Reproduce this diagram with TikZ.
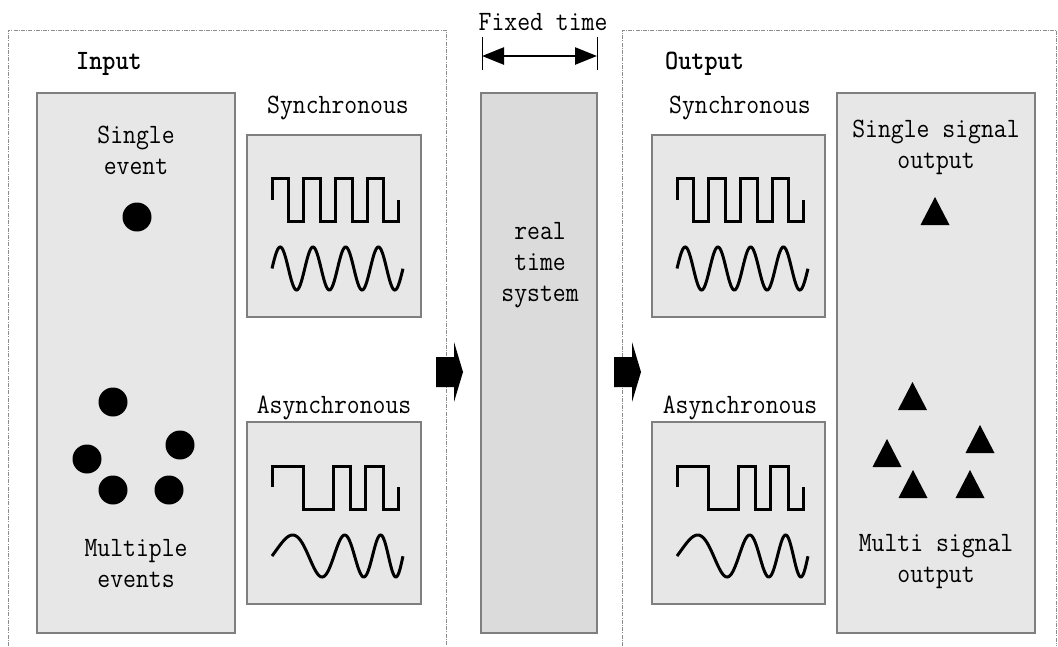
\documentclass[tikz,border=0pt]{standalone}
\usetikzlibrary{arrows.meta}
\definecolor{panelfill}{HTML}{E7E7E7}
\definecolor{corefill}{HTML}{DBDBDB}
\definecolor{panelline}{HTML}{7F7F7F}
\definecolor{frameline}{HTML}{8C8C8C}
% centred multi-line label whose baseline is that of its first line,
% drawn slightly taller than the font's natural proportions
\newcommand\labstack[1]{\scalebox{1}[1.12]{\begin{tabular}[t]{@{}c@{}}#1\end{tabular}}}
\newcommand\tallbox[1]{\scalebox{1}[1.12]{#1}}
\begin{document}
\begin{tikzpicture}[x=1pt,y=-1pt,
  panel/.style={draw=panelline, fill=panelfill, line width=1.3pt, inner sep=0pt},
  core/.style={panel, fill=corefill},
  label/.style={font=\fontsize{25}{28.1}\selectfont\ttfamily, inner sep=0pt, anchor=base},
  heading/.style={label, anchor=base west, font=\fontsize{25}{28.1}\selectfont\ttfamily\bfseries},
  frame/.style={draw=frameline, line width=0.9pt, dash pattern=on 4pt off 1.2pt on 1pt off 1.2pt},
  wave/.style={line width=3pt, line join=miter},
  % square wave and sine wave of equal period
  syncwaves/.pic={
    \draw[wave] (0,65) -- (0,43) -- (16.7,43) -- (16.7,86) -- (31.7,86) -- (31.7,43)
      -- (48.3,43) -- (48.3,86) -- (63.3,86) -- (63.3,43) -- (80,43) -- (80,86)
      -- (95,86) -- (95,43) -- (111.7,43) -- (111.7,86) -- (126.7,86) -- (126.7,65);
    \draw[wave] plot[variable=\t, domain=0:1, samples=160, smooth]
      ({131*\t},{133.5-21.5*sin(1440*\t)});
  },
  % irregular square wave and chirped sine wave
  asyncwaves/.pic={
    \draw[wave] (0,65) -- (0,44) -- (31,44) -- (31,87) -- (61.6,87) -- (61.6,44)
      -- (78.3,44) -- (78.3,87) -- (93.3,87) -- (93.3,44) -- (111,44) -- (111,87)
      -- (126.6,87) -- (126.6,65);
    \draw[wave] plot[variable=\t, domain=0:1, samples=160, smooth]
      ({131*\t},{134-21*sin(475.2*\t+604.8*\t*\t)});
  },
  blockarrow/.pic={
    \fill (0,-15) -- (18,-15) -- (18,-30) -- (27,0) -- (18,30) -- (18,15) -- (0,15) -- cycle;
  },
  signal/.pic={
    \fill (0,0) -- (-14.5,28) -- (14.5,28) -- cycle;
  }]
\useasboundingbox (0,0) rectangle (1058,646);

% dash-dotted frames of the input and output sides
\draw[frame] (8,646) -- (8,30) -- (446,30) -- (446,646);
\draw[frame] (622.5,646) -- (622.5,30) -- (1056.5,30) -- (1056.5,646);

\node[heading] (inlab) at (76,69) {\tallbox{Input}};
\node[heading] (outlab) at (665,69) {\tallbox{Output}};

% fixed time span above the system block
\coordinate (ftl) at (482,56);
\coordinate (ftr) at (597,56);
\draw[line width=1pt] (482,37) -- (482,70) (597,37) -- (597,70);
\draw[line width=2.5pt, {Triangle[length=22pt,width=17pt]}-{Triangle[length=22pt,width=17pt]}] (ftl) -- (ftr);
\node[label] (fixed) at (543,30) {\tallbox{Fixed time}};

% panels
\node[panel, minimum width=198pt, minimum height=540pt] (events) at (136,363) {};
\node[panel, minimum width=174pt, minimum height=182pt] (insync) at (334,226) {};
\node[panel, minimum width=174pt, minimum height=182pt] (inasync) at (334,513) {};
\node[core, minimum width=116pt, minimum height=540pt] (rts) at (539,363) {};
\node[panel, minimum width=173pt, minimum height=182pt] (outsync) at (738.5,226) {};
\node[panel, minimum width=173pt, minimum height=182pt] (outasync) at (738.5,513) {};
\node[panel, minimum width=198pt, minimum height=540pt] (signals) at (936,363) {};

% labels
\node[label] (insynclab) at (338,113) {\tallbox{Synchronous}};
\node[label] (inasynclab) at (334,413) {\tallbox{Asynchronous}};
\node[label] (outsynclab) at (740,113) {\tallbox{Synchronous}};
\node[label] (outasynclab) at (740,413) {\tallbox{Asynchronous}};
\node[label] (single) at (136,143) {\labstack{Single\\event}};
\node[label] (multiple) at (136,556) {\labstack{Multiple\\events}};
\node[label] (rtslab) at (540,239) {\labstack{real\\time\\system}};
\node[label] (singleout) at (936,137) {\labstack{Single signal\\output}};
\node[label] (multiout) at (936,551) {\labstack{Multi signal\\output}};

% waveforms
\pic at (272,135) {syncwaves};
\pic at (272,422) {asyncwaves};
\pic at (677,135) {syncwaves};
\pic at (677,422) {asyncwaves};

% events
\fill (137,217) circle[radius=14.5pt];
\fill (113,402) circle[radius=14.5pt];
\fill (180,445) circle[radius=14.5pt];
\fill (87,459) circle[radius=14.5pt];
\fill (113,490) circle[radius=14.5pt];
\fill (169,490) circle[radius=14.5pt];

% output signals
\pic at (935,197) {signal};
\pic at (912.5,382) {signal};
\pic at (980,425) {signal};
\pic at (887,439) {signal};
\pic at (913,470) {signal};
\pic at (970,470) {signal};

% flow arrows
\pic at (436,372) {blockarrow};
\pic at (614,372) {blockarrow};
\end{tikzpicture}
\end{document}
